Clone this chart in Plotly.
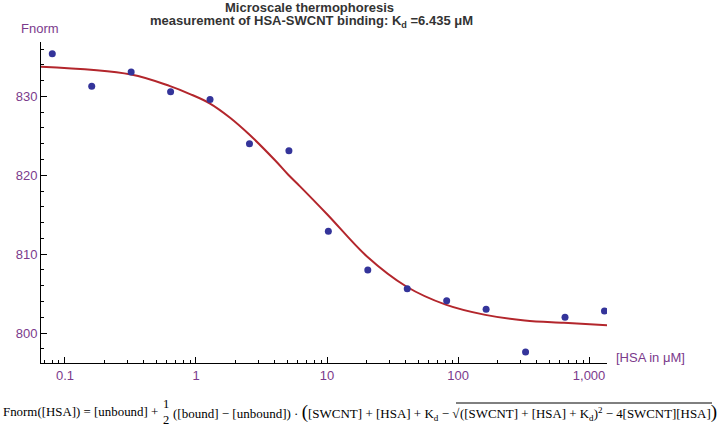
import plotly.graph_objects as go

# ---- data ----
hsa_uM = [0.08, 0.16, 0.32, 0.64, 1.28, 2.56, 5.12, 10.24, 20.48, 40.96, 81.92, 163.84, 327.68, 655.36, 1310.72]
fnorm = [835.4, 831.3, 833.1, 830.6, 829.6, 824.0, 823.1, 812.9, 808.0, 805.6, 804.1, 803.0, 797.6, 802.0, 802.8]

# fitted curve
fit_x = [0.0656, 0.319, 0.634, 0.90, 1.28, 1.82, 2.54, 4.01, 5.04, 6.22, 10.1, 20.2, 40.3, 80.5, 161.5, 323, 644, 1372]
fit_y = [833.76, 832.78, 831.3, 830.3, 829.1, 827.3, 825.2, 821.9, 820.1, 818.6, 815.0, 809.7, 805.9, 803.6, 802.3, 801.6, 801.3, 801.0]

x_tickvals = [0.1, 1, 10, 100, 1000]
x_ticktext = ["0.1", "1", "10", "100", "1,000"]
x_minor = [m * d for d in [0.01, 0.1, 1, 10, 100, 1000] for m in range(2, 10)]
y_tickvals = [800, 810, 820, 830]

W, H = 718, 427
L, R, T, B = 41, 607, 42, 363
PURPLE = "#7b3a8c"

def px(x):
    return (x - L) / (R - L)

def py(y):
    return (B - y) / (B - T)

fig = go.Figure()
fig.add_trace(go.Scatter(x=fit_x, y=fit_y, mode="lines", line=dict(color="#b3262c", width=2, shape="spline", smoothing=1.0),
                         showlegend=False, hoverinfo="skip"))
fig.add_trace(go.Scatter(x=hsa_uM, y=fnorm, mode="markers", marker=dict(color="#34349a", size=7),
                         showlegend=False))

fig.update_layout(
    width=W, height=H, autosize=False,
    margin=dict(l=L, r=W - R, t=T, b=H - B, autoexpand=False),
    plot_bgcolor="white", paper_bgcolor="white",
    font=dict(family="Liberation Sans, Arial", size=13, color=PURPLE),
    xaxis=dict(type="log", range=[-1.183, 3.137], showline=True, linecolor="black", linewidth=1,
               tickmode="array", tickvals=x_tickvals, ticktext=x_ticktext,
               ticks="inside", ticklen=6, tickcolor="black", showgrid=False, zeroline=False,
               tickfont=dict(color=PURPLE, size=13),
               minor=dict(tickmode="array", tickvals=x_minor, ticks="inside", ticklen=3, tickcolor="black",
                          showgrid=False)),
    yaxis=dict(range=[796.2, 836.9], showline=True, linecolor="black", linewidth=1,
               tickmode="array", tickvals=y_tickvals,
               ticks="inside", ticklen=6, tickcolor="black", showgrid=False, zeroline=False,
               tickfont=dict(color=PURPLE, size=13),
               minor=dict(dtick=2, tick0=800, ticks="inside", ticklen=3, tickcolor="black", showgrid=False)),
)

ann = []
def A(x, y, text, xanchor="center", size=13, color=PURPLE, family="Liberation Sans, Arial"):
    ann.append(dict(x=px(x), y=py(y), xref="paper", yref="paper", text=text, showarrow=False,
                    xanchor=xanchor, yanchor="middle", font=dict(size=size, color=color, family=family)))

# title
A(309, 8, "<b>Microscale thermophoresis</b>", color="#333333")
A(311, 22, "<b>measurement of HSA-SWCNT binding: K<sub>d</sub> =6.435 μM</b>", color="#333333")
# axis labels
A(40, 28, "Fnorm")
A(614, 357, "[HSA in μM]", xanchor="left")

# formula
SER = "Liberation Serif, Times New Roman, serif"
BK = "black"
A(1, 412, "Fnorm([HSA]) = [unbound] +", xanchor="left", size=12.9, color=BK, family=SER)
A(166, 404, "1", size=12.5, color=BK, family=SER)
A(166, 420, "2", size=12.5, color=BK, family=SER)
A(171, 412, "([bound] − [unbound]) · <span style='font-size:19px'>(</span>[SWCNT] + [HSA] + K<sub>d</sub> − √",
  xanchor="left", size=13, color=BK, family=SER)
A(458, 412, "([SWCNT] + [HSA] + K<sub>d</sub>)<sup>2</sup> − 4[SWCNT][HSA]<span style='font-size:19px'>)</span>",
  xanchor="left", size=12.9, color=BK, family=SER)
fig.update_layout(annotations=ann)

fig.add_shape(type="line", xref="paper", yref="paper", x0=px(456), x1=px(712), y0=py(403), y1=py(403),
              line=dict(color="black", width=1))

fig.write_html("out.html", post_script="document.body.style.margin='0px';",
               config={"displayModeBar": False})
